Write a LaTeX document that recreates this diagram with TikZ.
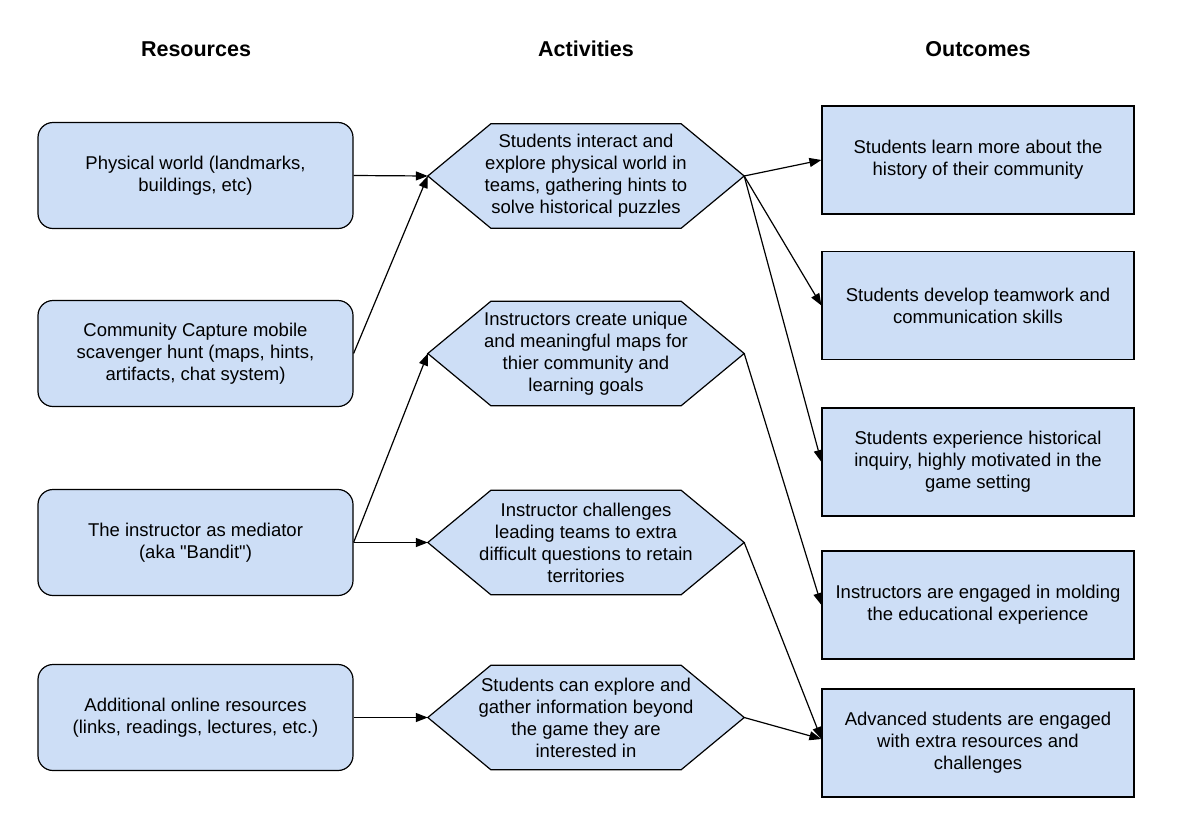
\documentclass[tikz,border=0pt]{standalone}
\usepackage{fontspec}
\setmainfont{Liberation Sans}
\usetikzlibrary{arrows.meta,backgrounds}
\definecolor{boxblue}{RGB}{205,222,246}
\tikzset{
  base/.style={align=center, inner sep=0pt, font=\fontsize{18.5}{22}\selectfont, text=black},
  resbox/.style={base, draw=black, line width=1.2pt, fill=boxblue, rounded corners=15pt,
    minimum width=315pt, minimum height=106pt},
  actbox/.style={base, minimum width=316pt, minimum height=104pt},
  outbox/.style={base, draw=black, line width=1.2pt, fill=boxblue,
    minimum width=312pt, minimum height=108pt},
  hexline/.style={draw=black, line width=1.2pt, fill=boxblue},
  head/.style={font=\fontsize{21.5}{24}\selectfont\bfseries, inner sep=0pt},
  conn/.style={line width=1.2pt, -{Triangle[length=12pt,width=9pt]}}
}
\begin{document}
\begin{tikzpicture}[x=1pt,y=-1pt]
\useasboundingbox (0,0) rectangle (1198,838);
% headers
\node[head] (hr) at (196,49) {Resources};
\node[head] (ha) at (586,49) {Activities};
\node[head] (ho) at (978,49) {Outcomes};
% resources
\node[resbox] (l1) at (195.5,175.5) {Physical world (landmarks,\\ buildings, etc)};
\node[resbox] (l2) at (195.5,353.5) {Community Capture mobile\\ scavenger hunt (maps, hints,\\ artifacts, chat system)};
\node[resbox] (l3) at (195.5,542.5) {The instructor as mediator\\ (aka \textquotedbl Bandit\textquotedbl)};
\node[resbox] (l4) at (195.5,717.5) {Additional online resources\\ (links, readings, lectures, etc.)};
% activities
\node[actbox] (h1) at (586,176) {Students interact and\\ explore physical world in\\ teams, gathering hints to\\ solve historical puzzles};
\node[actbox] (h2) at (586,353.5) {Instructors create unique\\ and meaningful maps for\\ thier community and\\ learning goals};
\node[actbox] (h3) at (586,542.5) {Instructor challenges\\ leading teams to extra\\ difficult questions to retain\\ territories};
\node[actbox] (h4) at (586,717.5) {Students can explore and\\ gather information beyond\\ the game they are\\ interested in};
\begin{scope}[on background layer]
\foreach \n in {h1,h2,h3,h4}
  \path[hexline] (\n.west) -- ([xshift=63pt]\n.north west) -- ([xshift=-63pt]\n.north east)
    -- (\n.east) -- ([xshift=-63pt]\n.south east) -- ([xshift=63pt]\n.south west) -- cycle;
\end{scope}
% outcomes
\node[outbox] (r1) at (978,160) {Students learn more about the\\ history of their community};
\node[outbox] (r2) at (978,305.5) {Students develop teamwork and\\ communication skills};
\node[outbox] (r3) at (978,462) {Students experience historical\\ inquiry, highly motivated in the\\ game setting};
\node[outbox] (r4) at (978,605) {Instructors are engaged in molding\\ the educational experience};
\node[outbox] (r5) at (978,743) {Advanced students are engaged\\ with extra resources and\\ challenges};
\coordinate (r5in) at ([yshift=4pt]r5.west);
% connectors
\draw[conn] (l1.east) -- (h1.west);
\draw[conn] (l2.east) -- (h1.west);
\draw[conn] (l3.east) -- (h2.west);
\draw[conn] (l3.east) -- (h3.west);
\draw[conn] (l4.east) -- (h4.west);
\draw[conn] (h1.east) -- (r1.west);
\draw[conn] (h1.east) -- (r2.west);
\draw[conn] (h1.east) -- (r3.west);
\draw[conn] (h2.east) -- (r4.west);
\draw[conn] (h3.east) -- (r5in);
\draw[conn] (h4.east) -- (r5in);
\end{tikzpicture}
\end{document}
